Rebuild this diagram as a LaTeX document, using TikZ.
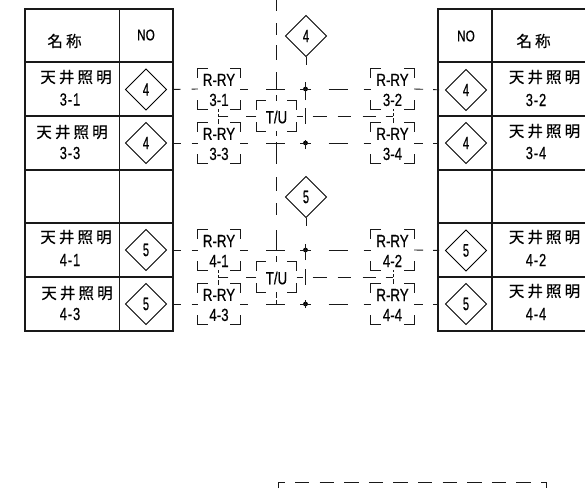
\documentclass[tikz,border=0pt]{standalone}
\usepackage{fontspec}
\usetikzlibrary{shapes.geometric}
\newfontfamily\cjkf[LetterSpace=20,FakeBold=0.4]{Noto Sans CJK JP}
\newfontfamily\latf[FakeStretch=0.76,FakeBold=0.5]{Liberation Sans}
\newfontfamily\numf[FakeStretch=0.74,LetterSpace=5,FakeBold=0.5]{Liberation Sans}
\newfontfamily\digf[FakeStretch=0.62,FakeBold=0.5]{Liberation Sans}
\tikzset{x=1pt,y=-1pt,
 tbl/.style={line width=1.1pt,black!90},
 cell/.style={font=\cjkf\fontsize{15.5}{16}\selectfont,align=center,inner sep=0pt,text=black},
 lab/.style={font=\numf\fontsize{17.5}{20}\selectfont,align=center,inner sep=0pt,text=black},
 nolab/.style={font=\latf\fontsize{15.5}{18}\selectfont,align=center,inner sep=0pt,text=black},
 dia/.style={diamond,draw=black,line width=.9pt,minimum width=41.5pt,minimum height=41.5pt,aspect=1,inner sep=0pt,font=\digf\fontsize{18}{18}\selectfont},
 brk/.style={rectangle,inner sep=0pt,align=center,font=\latf\fontsize{17.5}{20}\selectfont},
 corner/.style={line width=.9pt,black!90},
 wire/.style={line width=.9pt,black!90},
}
\newcommand{\bracketbox}[6]{%
 \node[brk,minimum width=#4pt,minimum height=#5pt] (#1) at (#2,#3) {};
 \node[brk] (#1t) at (#2,#3+1) {#6};
 \draw[corner] ([yshift=-9pt]#1.north west) |- ([xshift=10pt]#1.north west);
 \draw[corner] ([yshift=-9pt]#1.north east) |- ([xshift=-10pt]#1.north east);
 \draw[corner] ([yshift=9pt]#1.south west) |- ([xshift=10pt]#1.south west);
 \draw[corner] ([yshift=9pt]#1.south east) |- ([xshift=-10pt]#1.south east);
}
\begin{document}
\begin{tikzpicture}
\useasboundingbox (0,0) rectangle (585,488);
% left table
\draw[tbl] (25,9) rectangle (173,331);
\draw[tbl] (119.5,9) -- (119.5,331);
\foreach \y in {62,116,170,223,277} \draw[tbl] (25,\y) -- (173,\y);
% right table
\draw[tbl] (585,9) -- (438,9) -- (438,331) -- (585,331);
\draw[tbl] (492,9) -- (492,331);
\foreach \y in {62,116,170,223,277} \draw[tbl] (438,\y) -- (585,\y);
% left table texts
\node[cell] (lh) at (64.5,41) {名称};
\node[nolab] (ln) at (146,35) {NO};
\node[cell] (l1) at (76,77) {天井照明};
\node[lab] (l1b) at (70,99.5) {3-1};
\node[cell] (l2) at (72,132) {天井照明};
\node[lab] (l2b) at (70,153) {3-3};
\node[cell] (l3) at (76,237) {天井照明};
\node[lab] (l3b) at (70,260) {4-1};
\node[cell] (l4) at (77,293) {天井照明};
\node[lab] (l4b) at (70,314) {4-3};
% right table texts
\node[nolab] (rn) at (466,36) {NO};
\node[cell] (rh) at (533.5,41) {名称};
\node[cell] (r1) at (544.5,77) {天井照明};
\node[lab] (r1b) at (536,100) {3-2};
\node[cell] (r2) at (544.5,131) {天井照明};
\node[lab] (r2b) at (536,153) {3-4};
\node[cell] (r3) at (544.5,237) {天井照明};
\node[lab] (r3b) at (536,260) {4-2};
\node[cell] (r4) at (544.5,291) {天井照明};
\node[lab] (r4b) at (536,314) {4-4};
% diamonds
\node[dia] (da) at (146,89.5) {4};
\node[dia] (db) at (146,143) {4};
\node[dia] (dc) at (146,250) {5};
\node[dia] (dd) at (146,304) {5};
\node[dia] (de) at (466,90) {4};
\node[dia] (df) at (466,143) {4};
\node[dia] (dg) at (466,250.5) {5};
\node[dia] (dh) at (466,304) {5};
\node[dia] (dm) at (306,36) {4};
\node[dia] (dn) at (306,197) {5};
% bracket boxes
\bracketbox{a1}{219}{89}{42}{40}{R-RY\\3-1}
\bracketbox{a2}{219}{143}{42}{40}{R-RY\\3-3}
\bracketbox{a3}{219}{250}{42}{40}{R-RY\\4-1}
\bracketbox{a4}{219}{304}{42}{40}{R-RY\\4-3}
\bracketbox{b1}{392.5}{89}{43}{40}{R-RY\\3-2}
\bracketbox{b2}{392.5}{143}{43}{40}{R-RY\\3-4}
\bracketbox{b3}{392.5}{250}{43}{40}{R-RY\\4-2}
\bracketbox{b4}{392.5}{304}{43}{40}{R-RY\\4-4}
\bracketbox{t1}{276.5}{116}{40}{30}{T/U}
\bracketbox{t2}{276.5}{277}{40}{30}{T/U}
% crossing points
\foreach \n/\y/\u/\d in {p1/89/11/7,p2/143/6/3,p3/250/10/6,p4/304/4/4}{
 \coordinate (\n) at (305.5,\y);
 \fill[black] (\n) circle (2.4pt);
 \draw[wire] ([yshift=-\u pt]\n) -- ([yshift=\d pt]\n);
}
% horizontal wires
\foreach \d/\a/\p/\b/\e in {da/a1/p1/b1/de,db/a2/p2/b2/df,dc/a3/p3/b3/dg,dd/a4/p4/b4/dh}{
 \draw[wire,dash pattern=on 0pt off 6.5pt on 7pt off 11pt on 7pt off 10pt] (\d.east) -- (\a.west);
 \draw[wire,dash pattern=on 8pt off 18pt on 19pt off 15pt on 7pt off 10pt] (\a.east) -- (\p);
 \draw[wire,dash pattern=on 5pt off 18pt on 19pt off 16pt on 9pt off 10pt] (\p) -- (\b.west);
 \draw[wire,dash pattern=on 9pt off 10pt on 6pt off 20pt] (\b.east) -- (\e.west);
}
% T/U links
\foreach \t/\y in {t1/116,t2/277}{
 \coordinate (tl) at (218,\y);
 \coordinate (tr) at (393,\y);
 \draw[wire,dash pattern=on 10pt off 18pt on 10pt off 10pt] (\t.west) -- (tl);
 \draw[wire,dash pattern=on 6pt off 10pt on 14pt off 11pt on 13pt off 12pt on 13pt off 10pt on 8pt off 10pt] (\t.east) -- (tr);
 \draw[wire,dash pattern=on 5pt off 2pt on 3pt off 2pt] ([yshift=-8pt]tl) -- ([yshift=7pt]tl);
 \draw[wire,dash pattern=on 5pt off 2pt on 3pt off 2pt] ([yshift=-7pt]tr) -- ([yshift=7pt]tr);
 \draw[wire] (305.5,\y-8) -- (305.5,\y+8);
}
% vertical dashed bus
\coordinate (vt) at (276.5,0);
\coordinate (vm) at (276.5,170);
\coordinate (ve) at (276.5,304);
\draw[wire,dash pattern=on 11pt off 12pt on 12pt off 10pt on 15pt off 12pt on 17pt off 6pt on 6pt off 10pt] (vt) -- (t1.north);
\draw[wire,dash pattern=on 5pt off 6pt on 22pt off 100pt] (t1.south) -- (vm);
\draw[wire,dash pattern=on 0pt off 7pt on 14pt off 12pt on 12pt off 15pt on 20pt off 6pt on 6pt off 10pt] (vm) -- (t2.north);
\draw[wire,dash pattern=on 6pt off 2pt on 4pt off 10pt] (t2.south) -- (ve);
\draw[wire] (dm.south) -- ++(0,8);
\draw[wire] (dn.south) -- ++(0,8);
% lower dashed frame
\coordinate (fc) at (278,488);
\coordinate (fl) at (278,482);
\coordinate (fd) at (295,482);
\coordinate (fr) at (546,482);
\coordinate (fe) at (546,488);
\draw[wire] (fc) -- (fl) -- ++(7,0);
\draw[wire,dash pattern=on 14.4pt off 10.2pt] (fd) -- (fr);
\draw[wire] (fr) -- (fe);
\end{tikzpicture}
\end{document}
